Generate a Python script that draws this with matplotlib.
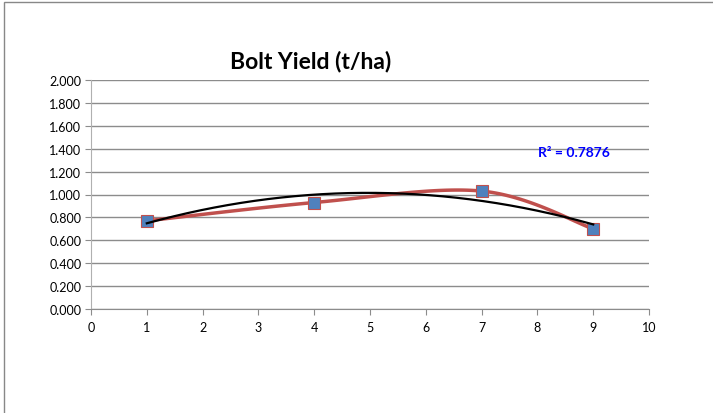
import numpy as np
import matplotlib
matplotlib.use("Agg")
import matplotlib.pyplot as plt
from matplotlib.patches import Rectangle

x_vals = [1, 4, 7, 9]
yield_vals = [0.77, 0.93, 1.03, 0.70]
title = "Bolt Yield (t/ha)"
r2_text = "R² = 0.7876"

plt.rcParams['font.family'] = ['Lato', 'DejaVu Sans']

fig = plt.figure(figsize=(7.13, 4.14), dpi=100)
fig.patches.append(Rectangle((4/713, -0.1), 1.2, 1 - 3/414 + 0.1, transform=fig.transFigure,
                             fill=False, edgecolor='#888888', linewidth=1.0, zorder=0))
ax = fig.add_axes([91/713, 1 - 310/414, (649 - 91)/713, (310 - 81)/414])

# Catmull-Rom smoothing (Excel-like smoothed line)
def smooth(xs, ys, n=40):
    xs = np.asarray(xs, float); ys = np.asarray(ys, float)
    px = np.concatenate([[xs[0]], xs, [xs[-1]]])
    py = np.concatenate([[ys[0]], ys, [ys[-1]]])
    ox, oy = [], []
    for i in range(1, len(px) - 2):
        p0 = np.array([px[i-1], py[i-1]]); p1 = np.array([px[i], py[i]])
        p2 = np.array([px[i+1], py[i+1]]); p3 = np.array([px[i+2], py[i+2]])
        c1 = p1 + (p2 - p0) / 6.0
        c2 = p2 - (p3 - p1) / 6.0
        t = np.linspace(0, 1, n)[:, None]
        b = (1-t)**3*p1 + 3*(1-t)**2*t*c1 + 3*(1-t)*t**2*c2 + t**3*p2
        ox.extend(b[:, 0]); oy.extend(b[:, 1])
    return np.array(ox), np.array(oy)

sx, sy = smooth(x_vals, yield_vals)
ax.plot(sx, sy, color='#C0504D', lw=2.5, zorder=3)
ax.plot(x_vals, yield_vals, ls='none', marker='s', ms=8, mfc='#4F81BD', mec='#C0504D', mew=0.8, zorder=4)

coef = np.polyfit(x_vals, yield_vals, 2)
tx = np.linspace(min(x_vals), max(x_vals), 200)
ax.plot(tx, np.polyval(coef, tx), color='black', lw=1.6, zorder=5)

ax.text(8.66, 1.37, r2_text, color='#0000FF', fontsize=10, fontweight='bold', ha='center', va='center')

ax.set_xlim(0, 10)
ax.set_ylim(0, 2.0)
ax.set_xticks(range(0, 11))
ax.set_yticks(np.arange(0, 2.001, 0.2))
ax.set_yticklabels([f"{v:.3f}" for v in np.arange(0, 2.001, 0.2)])
ax.grid(axis='y', color='#8c8c8c', lw=1.0)
ax.set_axisbelow(True)
for s in ['top', 'right']:
    ax.spines[s].set_visible(False)
ax.spines['left'].set_color('#b0b0b0')
ax.spines['bottom'].set_color('#8c8c8c')
ax.tick_params(axis='both', colors='#8c8c8c', labelcolor='black', labelsize=9, length=4, direction='out')
ax.tick_params(axis='x', pad=5)
ax.tick_params(axis='y', pad=3)

fig.text(311/713, 1 - 61/414, title, fontsize=16.5, fontweight='bold', ha='center', va='center')

fig.savefig("out.png", dpi=100)
